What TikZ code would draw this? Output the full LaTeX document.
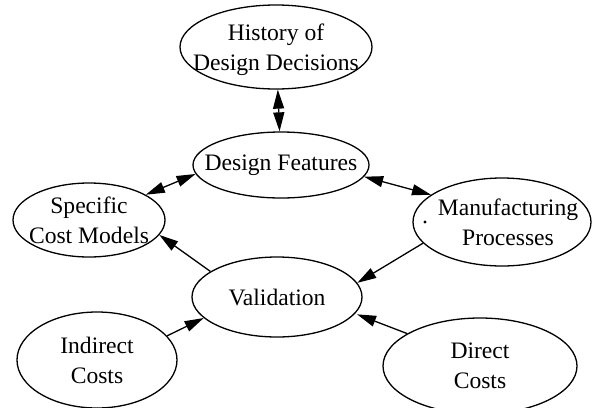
\documentclass[tikz,border=0pt]{standalone}
\usepackage{fontspec}
\setmainfont{Liberation Serif}
\usetikzlibrary{shapes.geometric,arrows.meta}
\begin{document}
\begin{tikzpicture}[x=1pt,y=-1pt,
  ell/.style={draw,ellipse,line width=1.3pt,inner sep=0pt},
  lab/.style={align=center,inner sep=0pt,font=\fontsize{23.6}{30}\selectfont},
  con/.style={line width=1.3pt},
  both/.style={con,{Triangle[length=19pt,width=11pt]}-{Triangle[length=19pt,width=11pt]}},
  one/.style={con,-{Triangle[length=19pt,width=11pt]}}
]
\useasboundingbox (0,0) rectangle (593,407);
\node[ell,minimum width=192pt,minimum height=84pt,label={[lab,yshift=-3pt]center:History of\\Design Decisions}] (hist) at (276,47) {};
\node[ell,minimum width=176pt,minimum height=66pt,label={[lab]center:Design Features}] (feat) at (281,165) {};
\node[ell,minimum width=152pt,minimum height=74pt,label={[lab]center:Specific\\Cost Models}] (spec) at (89,220) {};
\node[ell,minimum width=178pt,minimum height=88pt,label={[lab,xshift=6pt]center:Manufacturing\\Processes}] (manu) at (502,222) {};
\node[ell,minimum width=170pt,minimum height=80pt,label={[lab]center:Validation}] (valid) at (277,297) {};
\node[ell,minimum width=160pt,minimum height=96pt,label={[lab]center:Indirect\\Costs}] (ind) at (97,360) {};
\node[ell,minimum width=194pt,minimum height=96pt,label={[lab]center:Direct\\Costs}] (dir) at (480,366) {};
\fill (425,222) circle (1.6pt);
\draw[both] (hist) -- (feat);
\draw[both] (spec.24) -- (feat.186);
\draw[both] (feat.-8) -- (manu.159);
\draw[one] (valid.159) -- (spec.-12);
\draw[one] (manu.195) -- (valid.10);
\draw[one] (ind.19) -- (valid.196);
\draw[one,shorten >=2pt] (dir.156) -- (valid.-12);
\end{tikzpicture}
\end{document}
